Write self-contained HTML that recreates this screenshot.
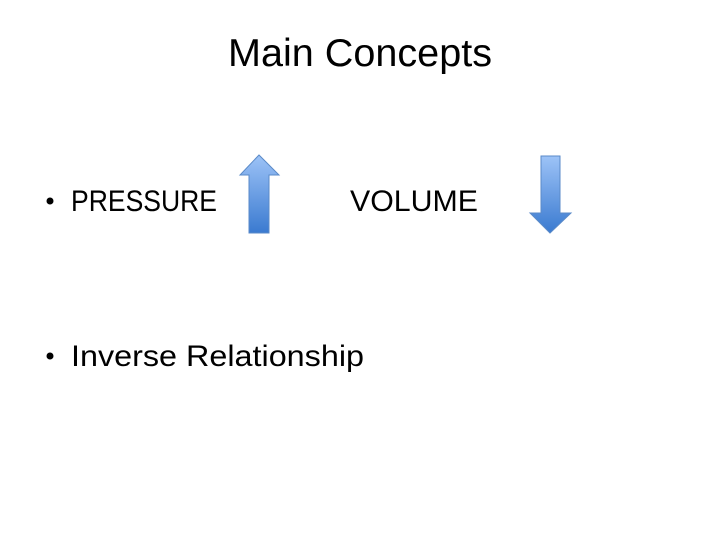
<!DOCTYPE html>
<html><head><style>html,body{margin:0;padding:0;background:#fff}svg{display:block}</style></head>
<body>
<svg width="720" height="540" viewBox="0 0 720 540" xmlns="http://www.w3.org/2000/svg" font-family="Liberation Sans, sans-serif">
<defs>
<linearGradient id="g" x1="0" y1="0" x2="0" y2="1">
<stop offset="0" stop-color="#9dc3f7"/><stop offset="1" stop-color="#3a7ad0"/>
</linearGradient>
</defs>
<rect width="720" height="540" fill="#fff"/>
<text x="228" y="66" font-size="39" textLength="264" lengthAdjust="spacingAndGlyphs">Main Concepts</text>
<circle cx="50" cy="201" r="3.5" fill="#000"/>
<text x="71" y="211" font-size="30" textLength="146" lengthAdjust="spacingAndGlyphs">PRESSURE</text>
<text x="350" y="211" font-size="30" textLength="128" lengthAdjust="spacingAndGlyphs">VOLUME</text>
<circle cx="50" cy="356" r="3.5" fill="#000"/>
<text x="71" y="366" font-size="30" textLength="293" lengthAdjust="spacingAndGlyphs">Inverse Relationship</text>
<polygon points="259,155 279,175 269,175 269,233 249,233 249,175 240,175" fill="url(#g)" stroke="#5a8ac8" stroke-width="1"/>
<polygon points="541,156 560,156 560,213 571,213 550,233 530,213 541,213" fill="url(#g)" stroke="#5a8ac8" stroke-width="1"/>
</svg>
</body></html>
